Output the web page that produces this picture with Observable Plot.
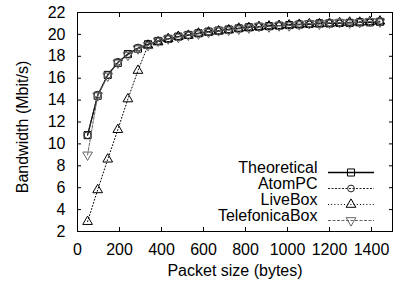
<!DOCTYPE html>
<html><head><meta charset="utf-8">
<script src="https://cdn.jsdelivr.net/npm/d3@7"></script>
<script src="https://cdn.jsdelivr.net/npm/@observablehq/plot@0.6"></script>
<style>body{margin:0;background:#fff}#chart{width:393px;height:284px}</style>
</head><body><div id="chart"></div>
<script>
const packetSize = [48,96,144,192,240,288,336,384,432,480,528,576,624,672,720,768,816,864,912,960,1008,1056,1104,1152,1200,1248,1296,1344,1392,1440];
const theoretical = [10.8,14.4,16.3,17.4,18.2,18.7,19.1,19.4,19.6,19.8,19.95,20.1,20.25,20.35,20.45,20.55,20.65,20.7,20.75,20.8,20.85,20.9,20.95,21.0,21.0,21.05,21.05,21.1,21.1,21.15];
const atomPC = [10.8,14.5,16.3,17.5,18.2,18.8,19.1,19.4,19.6,19.8,19.9,20.1,20.2,20.3,20.45,20.55,20.7,20.7,20.8,20.8,20.9,20.95,20.9,21.05,21.05,21.0,21.1,21.15,21.1,21.2];
const liveBox = [2.9,5.8,8.6,11.3,14.1,16.7,19.0,19.3,19.6,19.8,19.9,20.1,20.2,20.3,20.4,20.55,20.6,20.7,20.75,20.8,20.85,20.9,20.95,20.95,21.0,21.05,21.1,21.1,21.15,21.2];
const telefonicaBox = [9.0,14.4,16.2,17.4,18.1,18.7,19.0,19.4,19.6,19.75,19.95,20.05,20.2,20.35,20.4,20.5,20.6,20.75,20.7,20.8,20.8,20.9,21.0,20.95,21.05,21.1,21.05,21.1,21.2,21.15];
const seriesNames = ["Theoretical","AtomPC","LiveBox","TelefonicaBox"];
const seriesValues = [theoretical, atomPC, liveBox, telefonicaBox];
const xTicks = [0,200,400,600,800,1000,1200,1400];
const yTicks = [2,4,6,8,10,12,14,16,18,20,22];

const styles = {
  Theoretical:   {stroke:"#000", dash:null,  width:1.3, symbol:"square",   r:4,   rotate:0},
  AtomPC:        {stroke:"#222", dash:"2,1.5", width:1, symbol:"circle", r:3.4, rotate:0},
  LiveBox:       {stroke:"#000", dash:"1,2.2", width:1, symbol:"triangle", r:3.6, rotate:0},
  TelefonicaBox: {stroke:"#666", dash:"3,1.5", width:1, symbol:"triangle", r:3.6, rotate:180}
};

const rows = [];
seriesNames.forEach((name, i) => {
  packetSize.forEach((x, j) => rows.push({series: name, x, y: seriesValues[i][j]}));
});

const lineSymbol = {draw(ctx) { ctx.moveTo(-23, 0); ctx.lineTo(23, 0); }};
const fmt = d => String(d);

const marks = [
  Plot.frame({stroke:"#000", strokeWidth:1}),
  Plot.axisX(xTicks, {tickSize:0, tickPadding:12, label:null, fill:"#000", tickFormat:fmt}),
  Plot.axisX(xTicks, {anchor:"bottom", tickSize:-4, fill:"none", label:null, stroke:"#000"}),
  Plot.axisX(xTicks, {anchor:"top", tickSize:-4, fill:"none", label:null, stroke:"#000"}),
  Plot.axisY(yTicks, {tickSize:0, tickPadding:12, label:null, fill:"#000", tickFormat:fmt}),
  Plot.axisY(yTicks, {anchor:"left", tickSize:-4, fill:"none", label:null, stroke:"#000"}),
  Plot.axisY(yTicks, {anchor:"right", tickSize:-4, fill:"none", label:null, stroke:"#000"}),
  Plot.text(["Packet size (bytes)"], {frameAnchor:"bottom", dy:44, textAnchor:"middle", fill:"#000"}),
  Plot.text(["Bandwidth (Mbit/s)"], {frameAnchor:"left", dx:-55, dy:5, rotate:-90, textAnchor:"middle", fill:"#000"})
];

seriesNames.forEach((name) => {
  const s = styles[name];
  const data = rows.filter(d => d.series === name);
  marks.push(Plot.line(data, {x:"x", y:"y", stroke:s.stroke, strokeWidth:s.width, strokeDasharray:s.dash}));
  marks.push(Plot.dot(data, {x:"x", y:"y", symbol:s.symbol, r:s.r, rotate:s.rotate, stroke:s.stroke, strokeWidth:1, fill:"none"}));
});

seriesNames.forEach((name, i) => {
  const s = styles[name];
  const dy = -(11 + 16 * (seriesNames.length - 1 - i));
  marks.push(Plot.text([name], {frameAnchor:"bottom-right", dx:-75, dy, textAnchor:"end", fill:"#000"}));
  marks.push(Plot.dot([name], {frameAnchor:"bottom-right", dx:-41.5, dy, symbol:lineSymbol, stroke:s.stroke, strokeWidth:s.width, strokeDasharray:s.dash, fill:"none"}));
  marks.push(Plot.dot([name], {frameAnchor:"bottom-right", dx:-41.5, dy, symbol:s.symbol, r:s.r, rotate:s.rotate, stroke:s.stroke, strokeWidth:1, fill:"none"}));
});

const chart = Plot.plot({
  width:393, height:284,
  marginLeft:77, marginRight:1, marginTop:12, marginBottom:53,
  x:{domain:[0,1500]},
  y:{domain:[2,22]},
  style:{fontFamily:"'Liberation Sans', Arial, Helvetica, sans-serif", fontSize:"16px", color:"#000", background:"#fff"},
  marks
});
document.getElementById("chart").appendChild(chart);
</script>
</body></html>
